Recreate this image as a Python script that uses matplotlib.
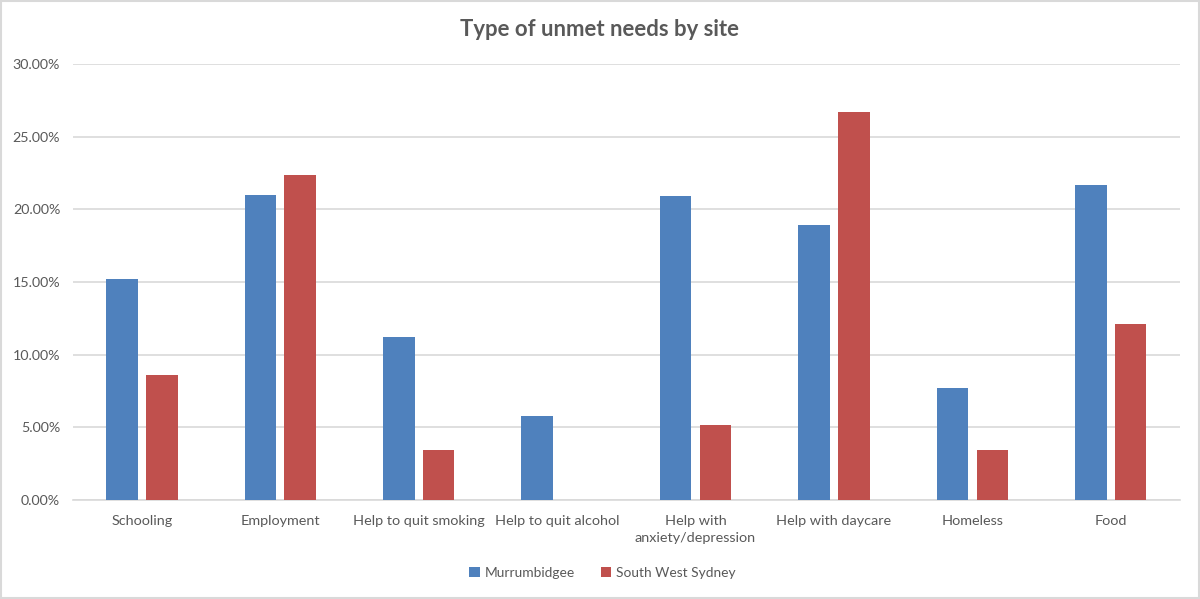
import matplotlib
matplotlib.use("Agg")
import matplotlib.pyplot as plt
import numpy as np
from matplotlib.ticker import FuncFormatter
from matplotlib.patches import Rectangle

plt.rcParams['font.family'] = ['Lato', 'DejaVu Sans']

categories = ["Schooling", "Employment", "Help to quit smoking", "Help to quit alcohol",
              "Help with\nanxiety/depression", "Help with daycare", "Homeless", "Food"]
murrumbidgee = [15.2, 21.0, 11.2, 5.8, 20.9, 18.9, 7.7, 21.7]
south_west_sydney = [8.6, 22.4, 3.45, 0.0, 5.2, 26.7, 3.45, 12.1]
series_names = ["Murrumbidgee", "South West Sydney"]

blue = "#4F81BD"
red = "#C0504D"
txt = "#595959"

fig = plt.figure(figsize=(12, 5.99), dpi=100)
ax = fig.add_axes([0.0606, 0.165, 0.9227, 0.728])

x = np.arange(len(categories))
w = 0.228
gap = 0.06
ax.bar(x - (w + gap) / 2, murrumbidgee, width=w, color=blue, label=series_names[0], zorder=3)
ax.bar(x + (w + gap) / 2, south_west_sydney, width=w, color=red, label=series_names[1], zorder=3)

ax.set_xlim(-0.5, len(categories) - 0.5)
ax.set_ylim(0, 30)
ax.set_yticks(np.arange(0, 30.1, 5))
ax.yaxis.set_major_formatter(FuncFormatter(lambda v, p: f"{v:.2f}%"))
ax.set_xticks(x)
ax.set_xticklabels(categories, linespacing=1.45)
ax.grid(axis='y', color='#D9D9D9', linewidth=1.2, zorder=0)
for s in ['top', 'right', 'left']:
    ax.spines[s].set_visible(False)
ax.spines['bottom'].set_color('#D9D9D9')
ax.spines['bottom'].set_linewidth(1.2)
ax.tick_params(axis='both', length=0, colors=txt)
ax.tick_params(axis='x', pad=11, labelsize=10.4)
ax.tick_params(axis='y', pad=9, labelsize=10.3)

fig.text(0.5, 0.95, "Type of unmet needs by site", ha='center', va='center',
         fontsize=15.9, fontweight='bold', color=txt)

leg = fig.legend(loc='center', bbox_to_anchor=(0.502, 0.043), ncol=2, frameon=False,
                 fontsize=9.9, handlelength=0.75, handleheight=0.75, columnspacing=1.9,
                 handletextpad=0.35)
for t in leg.get_texts():
    t.set_color(txt)

fig.patches.append(Rectangle((0.001, 0.002), 0.998, 0.996, transform=fig.transFigure,
                             fill=False, edgecolor='#D9D9D9', linewidth=1.5))

fig.savefig("out.png", dpi=100, facecolor='white')
